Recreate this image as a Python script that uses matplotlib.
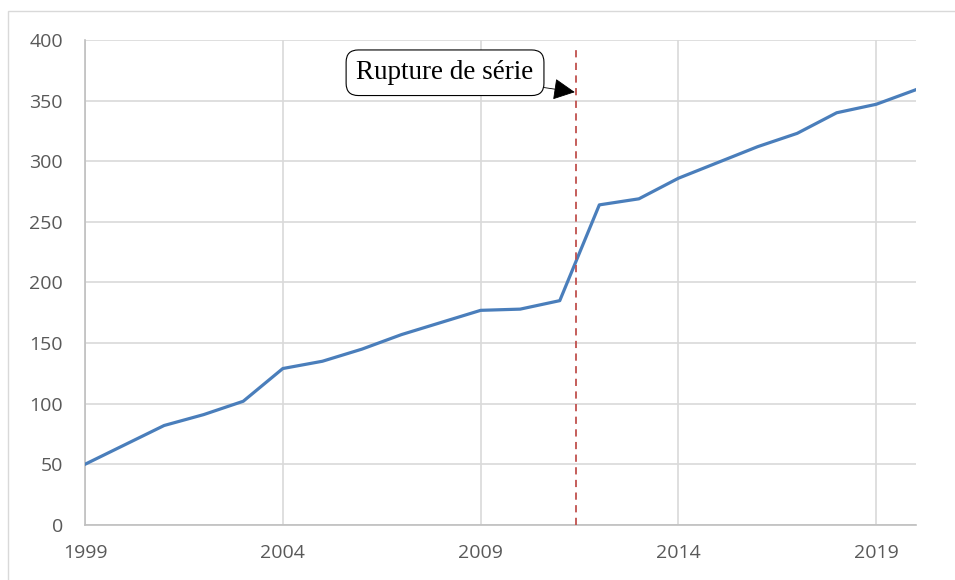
import matplotlib
matplotlib.use("Agg")
import matplotlib.pyplot as plt
from matplotlib.patches import Rectangle

years = list(range(1999, 2021))
values = [50, 66, 82, 91, 102, 129, 135, 145, 157, 167, 177, 178, 185,
          264, 269, 286, 299, 312, 323, 340, 347, 359]
x_ticks = [1999, 2004, 2009, 2014, 2019]
y_ticks = [0, 50, 100, 150, 200, 250, 300, 350, 400]
break_year = 2011.4
break_label = "Rupture de série"

fig = plt.figure(figsize=(9.55, 5.8), dpi=100)
ax = fig.add_axes([0.089, 0.095, 0.870, 0.836])

# outer chart frame
fig.patches.append(Rectangle((8 / 955, -0.01), 1.0, 1 - 11 / 580 + 0.01,
                             transform=fig.transFigure, fill=False,
                             edgecolor="#d9d9d9", linewidth=1.0))

ax.plot(years, values, color="#4a7ebb", linewidth=2.3, zorder=3)
ax.plot([break_year, break_year], [0, 392], color="#c0504d",
        linestyle=(0, (4, 3)), linewidth=1.3, zorder=4)

ax.annotate(break_label, xy=(2011.38, 357), xytext=(2008.1, 373),
            ha="center", va="center", fontsize=19.5, family="Liberation Serif",
            bbox=dict(boxstyle="round,pad=0.38,rounding_size=0.45",
                      fc="white", ec="black", lw=0.8),
            arrowprops=dict(arrowstyle="-|>,head_length=0.7,head_width=0.35",
                            color="black", lw=0.6, shrinkA=0, shrinkB=0),
            zorder=5)

ax.set_xlim(1999, 2020)
ax.set_ylim(0, 400)
ax.set_xticks(x_ticks)
ax.set_yticks(y_ticks)
ax.grid(axis="x", color="#d9d9d9", linewidth=1.2)
ax.grid(axis="y", color="#d9d9d9", linewidth=1.2)
ax.set_axisbelow(True)
for side in ["top", "right"]:
    ax.spines[side].set_visible(False)
for side in ["left", "bottom"]:
    ax.spines[side].set_color("#bfbfbf")
    ax.spines[side].set_linewidth(1.2)
ax.tick_params(length=0, labelsize=14, labelcolor="#595959")
ax.tick_params(axis="x", pad=14)
ax.tick_params(axis="y", pad=16)
for lab in ax.get_xticklabels() + ax.get_yticklabels():
    lab.set_family("Open Sans")

fig.savefig("out.png", dpi=100)
